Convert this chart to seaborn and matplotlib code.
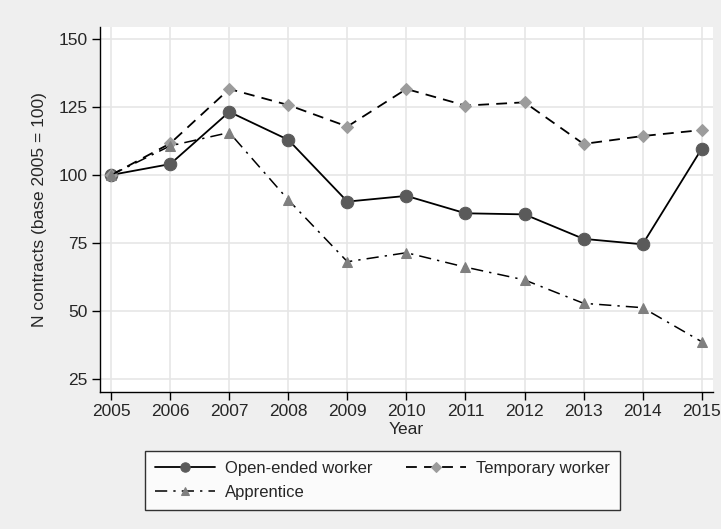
import pandas as pd
import matplotlib
matplotlib.use("Agg")
import matplotlib.pyplot as plt
import seaborn as sns

# Series
years = [2005, 2006, 2007, 2008, 2009, 2010, 2011, 2012, 2013, 2014, 2015]
open_ended = [100, 104.0, 123.2, 112.9, 90.2, 92.3, 85.9, 85.5, 76.5, 74.5, 109.6]
temporary = [100, 111.6, 131.6, 125.7, 117.8, 131.6, 125.5, 126.7, 111.4, 114.3, 116.5]
apprentice = [100, 110.7, 115.6, 90.8, 68.1, 71.4, 66.1, 61.4, 52.8, 51.2, 38.7]

y_ticks = [25, 50, 75, 100, 125, 150]

sns.set_style("white")
plt.rcParams['font.family'] = ['Liberation Sans', 'DejaVu Sans']
fs = 12.5

fig = plt.figure(figsize=(7.21, 5.29), dpi=100)
fig.patch.set_facecolor("#efefef")
ax = fig.add_axes([0.1387, 0.259, 0.850, 0.690])
ax.set_facecolor("white")

sns.lineplot(x=years, y=open_ended, ax=ax, color="black", lw=1.3,
             marker="o", markersize=9, markerfacecolor="#5a5a5a",
             markeredgecolor="#5a5a5a", label="Open-ended worker")
sns.lineplot(x=years, y=temporary, ax=ax, color="black", lw=1.3,
             linestyle=(0, (6, 4)), marker="D", markersize=6.5,
             markerfacecolor="#9c9c9c", markeredgecolor="#9c9c9c",
             label="Temporary worker")
sns.lineplot(x=years, y=apprentice, ax=ax, color="black", lw=1.1,
             linestyle=(0, (8, 4, 1.5, 4)), marker="^", markersize=7,
             markerfacecolor="#7f7f7f", markeredgecolor="#7f7f7f",
             label="Apprentice")

ax.set_xlim(2004.81, 2015.19)
ax.set_ylim(20.2, 154.4)
ax.set_xticks(years)
ax.set_yticks(y_ticks)
ax.grid(True, color="#e6e6e6", lw=1.2)
ax.set_axisbelow(True)
for s in ["top", "right"]:
    ax.spines[s].set_visible(False)
for s in ["left", "bottom"]:
    ax.spines[s].set_color("black")
    ax.spines[s].set_linewidth(1.0)
ax.tick_params(axis="both", direction="out", length=6, width=1,
               color="black", labelsize=fs, pad=3, left=True, bottom=True)
ax.set_xlabel("Year", fontsize=fs, labelpad=2)
ax.set_ylabel("N contracts (base 2005 = 100)", fontsize=fs, labelpad=8)

# legend below the plot, two columns, row-wise order
h, l = ax.get_legend_handles_labels()
ax.get_legend().remove()
order = [0, 2, 1]
leg = fig.legend([h[i] for i in order], [l[i] for i in order],
                 ncol=2, loc="upper left",
                 bbox_to_anchor=(145 / 721, 1 - 451 / 529),
                 borderaxespad=0, fontsize=12, frameon=True, fancybox=False,
                 edgecolor="black", handlelength=3.6, columnspacing=2.0,
                 borderpad=0.6, labelspacing=0.55, handletextpad=0.6,
                 markerscale=0.75)
leg.get_frame().set_linewidth(1.0)

fig.savefig("out.png", dpi=100, facecolor=fig.get_facecolor())
